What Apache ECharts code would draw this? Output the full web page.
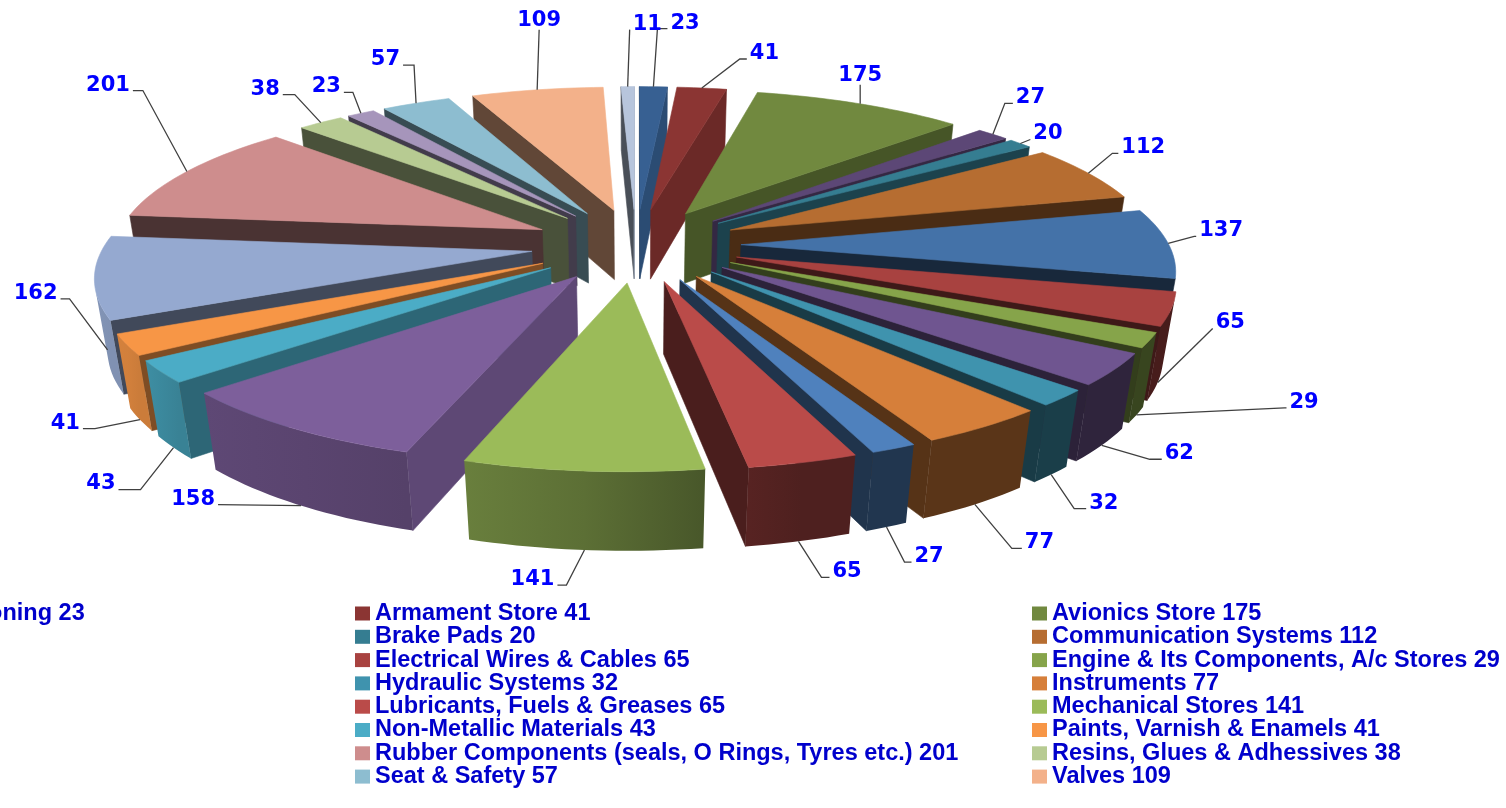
<!DOCTYPE html>
<html><head><meta charset="utf-8">
<style>html,body{margin:0;padding:0;background:#fff;overflow:hidden}#c{width:1506px;height:808px}</style>
<script src="https://cdn.jsdelivr.net/npm/echarts@6/dist/echarts.min.js"></script>
</head><body><div id="c"></div>
<script>
// Data, clockwise from twelve o'clock. The first legend column is cut off by the page edge in the reference,
// so names that cannot be read there are marked as unreadable.
const categories = ['Air Conditioning','Armament Store','Avionics Store','(name not visible) a','Brake Pads','Communication Systems','(name not visible) b','Electrical Wires & Cables','Engine & Its Components, A/c Stores','(name not visible) c','Hydraulic Systems','Instruments','(name not visible) d','Lubricants, Fuels & Greases','Mechanical Stores','(name not visible) e','Non-Metallic Materials','Paints, Varnish & Enamels','(name not visible) f','Rubber Components (seals, O Rings, Tyres etc.)','Resins, Glues & Adhessives','(name not visible) g','Seat & Safety','Valves','(name not visible) h'];
const values = [23,41,175,27,20,112,137,65,29,62,32,77,27,65,141,158,43,41,162,201,38,23,57,109,11];
const colors = ['#376092','#8B3533','#71893F','#5C4776','#357D91','#B66D31','#4472A8','#A84240','#86A44A','#6F5590','#3F93AE','#D67F3A','#4F81BD','#BA4B49','#9BBB59','#7D5F9B','#4BACC6','#F79646','#95A9D0','#CE8D8D','#B7CB92','#A695BB','#8DBDD0','#F3B18A','#B7C5DC'];
const legendCol1 = [0];
const legendCol2 = [1,4,7,10,13,16,19,22];
const legendCol3 = [2,5,8,11,14,17,20,23];
// Label layout: leader elbow offset from the slice's rim point [dx, dy, side, horizontal run]; depth down the wall where the leader starts.
const labelLayout = [[4,-58,1,10],[38,-29,1,7],[0,-19,0,0],[12,-31,1,8],[10,-4,1,0],[24,-20,1,6],[26,-7,1,2],[55,-54,1,0],[148,-7,1,2],[48,14,1,12],[23,34,1,12],[37,44,1,10],[18,35,1,7],[23,36,1,8],[-18,35,-1,9],[-83,-1,-1,0],[-33,42,-1,22],[-45,9,-1,12],[-38,-51,-1,9],[-44,-81,-1,10],[-26,-28,-1,12],[-8,-21,-1,9],[-2,-38,-1,11],[2,-60,0,0],[2,-57,1,0]];
const labelDepth = [0,0,0,0,0,0,0,1,1,1,1,1,1,1,1,1,1,1,1,0,0,0,0,0,0];

// Projection of the tilted, exploded pie
const CX=636, CY=245, R=428, EXPLODE=105, TILT=0.35, HEIGHT=72.5, PERSP=3000;
const total = values.reduce((a,b)=>a+b,0);
const rad = d=>d*Math.PI/180;
let acc=0;
const slices = values.map(v=>{const a0=acc/total*360; acc+=v; return {a0,a1:acc/total*360,mid:(acc-v/2)/total*360};});
function project(ax,ay,a,r,z){
  const x=ax+r*Math.sin(rad(a)), y=ay-r*Math.cos(rad(a));
  const s=1/(1-(y+z)/PERSP);
  return [CX+x*s, CY+(TILT*y-z)*s];
}
function lookup(tbl,n){
  n=((n%360)+360)%360;
  if(n<=tbl[0][0])return tbl[0][1];
  for(let i=1;i<tbl.length;i++){if(n<=tbl[i][0]){const p=tbl[i-1],q=tbl[i];return p[1]+(q[1]-p[1])*(n-p[0])/(q[0]-p[0]);}}
  return tbl[tbl.length-1][1];
}
const RADIAL_SHADE=[[90,.8],[110,.75],[136,.62],[155,.43],[170,.4],[190,.35],[225,.4],[270,.4]];
const ARC_SHADE=[[170,.42],[172,.5],[198,.68],[228,.75],[240,.85],[270,.9]];
function shade(hex,f){
  const n=parseInt(hex.slice(1),16);
  return 'rgb('+[(n>>16)&255,(n>>8)&255,n&255].map(c=>Math.round(c*f)).join(',')+')';
}
function area(p){let s=0;for(let i=0;i<p.length;i++){const q=p[(i+1)%p.length];s+=p[i][0]*q[1]-q[0]*p[i][1];}return s;}
function poly(points,fill,stroke){return {type:'polygon',shape:{points},style:{fill,stroke:stroke||fill,lineWidth:.6}};}
function buildSlice(i){
  const sl=slices[i], ax=EXPLODE*Math.sin(rad(sl.mid)), ay=-EXPLODE*Math.cos(rad(sl.mid));
  const col=colors[i], kids=[];
  const T=(a,r)=>project(ax,ay,a,r,0), B=(a,r)=>project(ax,ay,a,r,-HEIGHT);
  const add=(q,f)=>{if(area(q)<0)kids.push(poly(q,shade(col,f)));};
  add([T(sl.a0,0),T(sl.a0,R),B(sl.a0,R),B(sl.a0,0)],lookup(RADIAL_SHADE,sl.a0-90));
  add([T(sl.a1,R),T(sl.a1,0),B(sl.a1,0),B(sl.a1,R)],lookup(RADIAL_SHADE,sl.a1+90));
  const steps=Math.max(2,Math.ceil((sl.a1-sl.a0)/1.5));
  const angles=[];
  for(let k=0;k<=steps;k++)angles.push(sl.a0+(sl.a1-sl.a0)*k/steps);
  // the visible part of the outer wall, as one polygon with a gradient along it
  const vis=[];
  for(let k=0;k<steps;k++){
    const a=angles[k],b=angles[k+1];
    if(area([T(a,R),T(b,R),B(b,R),B(a,R)])<0){if(!vis.length)vis.push(a);vis.push(b);}
  }
  if(vis.length>1){
    const pts=vis.map(a=>T(a,R)).concat(vis.slice().reverse().map(a=>B(a,R)));
    const x0=T(vis[0],R)[0],x1=T(vis[vis.length-1],R)[0];
    const n=vis.length-1;
    const stops=[0,.5,1].map(o=>({offset:o,color:shade(col,lookup(ARC_SHADE,vis[Math.round(o*n)]))}));
    const fill={type:'linear',x:x0,y:0,x2:x1,y2:0,global:true,colorStops:stops};
    kids.push({type:'polygon',shape:{points:pts},style:{fill}});
  }
  const top=[T(sl.a0,0)];
  angles.forEach(a=>top.push(T(a,R)));
  kids.push(poly(top,col));
  return {type:'group',children:kids};
}
function buildLabel(i){
  const sl=slices[i], [dx,dy,side,run]=labelLayout[i];
  const a=project(0,0,sl.mid,R+EXPLODE,-HEIGHT*labelDepth[i]);
  const e=[a[0]+dx,a[1]+dy], end=[e[0]+side*run,e[1]];
  const kids=[{type:'polyline',shape:{points:[a,e,end]},style:{stroke:'#404040',lineWidth:1.3,fill:'none'}}];
  kids.push({type:'text',style:{text:String(values[i]),font:'bold 21px "DejaVu Sans"',fill:'#0000FF',
    x:side===0?e[0]:end[0]+side*3, y:side===0?e[1]-9.5:e[1]-5.5,
    align:side===0?'center':(side>0?'left':'right'),verticalAlign:'middle'}});
  return {type:'group',children:kids};
}
// Back slices first, so nearer slices overlap them
const order=values.map((_,i)=>i).sort((p,q)=>Math.cos(rad(slices[q].mid))-Math.cos(rad(slices[p].mid)));
const rank=[];order.forEach((idx,r)=>rank[idx]=r);
const legendName=i=>categories[i]+' '+values[i];
const series=values.map((v,i)=>({type:'custom',name:legendName(i),coordinateSystem:'none',silent:true,animation:false,
  z:2+rank[i]/100,itemStyle:{color:colors[i]},data:[v],renderItem:()=>buildSlice(i)}));
series.push({type:'custom',name:'labels',coordinateSystem:'none',silent:true,animation:false,z:5,data:values,
  renderItem:(p)=>buildLabel(p.dataIndex)});
const legendBase={orient:'vertical',icon:'rect',itemWidth:15,itemHeight:14,itemGap:-0.7,padding:0,itemStyle:{borderWidth:0},selectedMode:false,
  textStyle:{color:'#0000CC',fontFamily:'Liberation Sans',fontWeight:'bold',fontSize:23.5,lineHeight:20,padding:[0,0,0,0]}};
const chart=echarts.init(document.getElementById('c'),null,{renderer:'canvas'});
chart.setOption({backgroundColor:'#fff',animation:false,series,
  legend:[
    Object.assign({},legendBase,{left:-152,top:601.5,data:legendCol1.map(legendName)}),
    Object.assign({},legendBase,{left:355,top:601.5,data:legendCol2.map(legendName)}),
    Object.assign({},legendBase,{left:1032,top:601.5,data:legendCol3.map(legendName)})
  ]});
</script></body></html>
